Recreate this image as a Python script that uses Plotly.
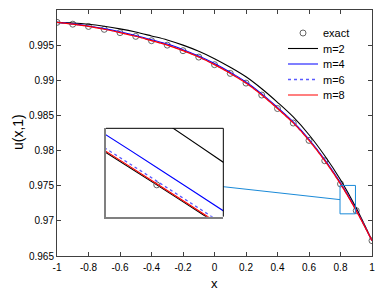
import plotly.graph_objects as go

x = [-1.0, -0.9, -0.8, -0.7, -0.6, -0.5, -0.4, -0.3, -0.2, -0.1, 0.0,
     0.1, 0.2, 0.3, 0.4, 0.5, 0.6, 0.7, 0.8, 0.9, 1.0]

exact = [0.99824, 0.99798, 0.99766, 0.99725, 0.99678, 0.99625, 0.99563, 0.99500,
         0.99421, 0.99330, 0.99222, 0.99098, 0.98960, 0.98790, 0.98598, 0.98392,
         0.98145, 0.97855, 0.97525, 0.97145, 0.96718]
m2 = [0.99824, 0.99815, 0.99797, 0.99768, 0.99731, 0.99686, 0.99631, 0.99574,
      0.99500, 0.99413, 0.99308, 0.99186, 0.99050, 0.98880, 0.98687, 0.98478,
      0.98225, 0.97926, 0.97584, 0.97182, 0.96718]
m4 = [0.99824, 0.99802, 0.99773, 0.99735, 0.99690, 0.99638, 0.99577, 0.99515,
      0.99436, 0.99346, 0.99238, 0.99114, 0.98976, 0.98806, 0.98614, 0.98408,
      0.98161, 0.97871, 0.975402, 0.97156, 0.96718]
m6 = [0.99824, 0.99799, 0.99768, 0.99728, 0.99681, 0.99628, 0.99566, 0.99503,
      0.99424, 0.99333, 0.99225, 0.99101, 0.98963, 0.98793, 0.98601, 0.98395,
      0.98148, 0.97858, 0.975283, 0.97147, 0.96718]
m8 = [0.99824, 0.99798, 0.99767, 0.99726, 0.99679, 0.99626, 0.99564, 0.99501,
      0.99422, 0.99331, 0.99223, 0.99099, 0.98961, 0.98791, 0.98599, 0.98393,
      0.98146, 0.97856, 0.97526, 0.97146, 0.96718]

x_ticks = [-1, -0.8, -0.6, -0.4, -0.2, 0, 0.2, 0.4, 0.6, 0.8, 1]
x_labels = ["-1", "-0.8", "-0.6", "-0.4", "-0.2", "0", "0.2", "0.4", "0.6", "0.8", "1"]
y_ticks = [0.965, 0.97, 0.975, 0.98, 0.985, 0.99, 0.995]
y_labels = ["0.965", "0.97", "0.975", "0.98", "0.985", "0.99", "0.995"]

# zoom windows
box_x = [0.797, 0.895]
box_y = [0.97100, 0.97504]
inset_x = [0.792, 0.8105]
inset_y = [0.974973, 0.975743]
inset_dom_x = [0.1556, 0.528]
inset_dom_y = [0.160, 0.519]

FONT = "Liberation Sans, Arial, Helvetica, sans-serif"

# the page body adds an 8px offset, so the figure is laid out 8px smaller
W, H = 375, 286
ML, MR, MT, MB = 49, 11, 2, 38
PW, PH = W - ML - MR, H - MT - MB

series = [
    ("m=2", m2, dict(color="black", width=1.1)),
    ("m=4", m4, dict(color="#0000FF", width=1.1)),
    ("m=6", m6, dict(color="#5A5AFF", width=1.3, dash="dot")),
    ("m=8", m8, dict(color="#FF0000", width=1.2)),
]

# one legend per entry so the rows can sit as tightly as in the original
legend_ids = ["legend", "legend2", "legend3", "legend4", "legend5"]
legend_rows_px = [25, 40.5, 56, 71.5, 87]   # row centres, px from figure top

fig = go.Figure()
fig.add_trace(go.Scatter(x=x, y=exact, mode="markers", name="exact", legend=legend_ids[0],
                         marker=dict(symbol="circle-open", size=6,
                                     color="#555555", line=dict(width=0.9))))
for i, (name, ys, ln) in enumerate(series):
    fig.add_trace(go.Scatter(x=x, y=ys, mode="lines", name=name, legend=legend_ids[i + 1],
                             line=dict(shape="spline", **ln)))

# inset
fig.add_trace(go.Scatter(x=x, y=exact, mode="lines+markers", showlegend=False,
                         line=dict(color="black", width=1.1, shape="spline"),
                         marker=dict(symbol="circle-open", size=6, color="#555555",
                                     line=dict(width=0.9)),
                         xaxis="x2", yaxis="y2"))
for name, ys, ln in series:
    fig.add_trace(go.Scatter(x=x, y=ys, mode="lines", showlegend=False,
                             line=dict(shape="spline", **ln),
                             xaxis="x2", yaxis="y2"))

axis_common = dict(showline=True, linecolor="#404040", linewidth=1, mirror="ticks",
                   ticks="inside", ticklen=4, tickcolor="#404040", showgrid=False,
                   zeroline=False, automargin=False,
                   tickfont=dict(family=FONT, size=10, color="black"))

legends = {}
for lid, ypx in zip(legend_ids, legend_rows_px):
    legends[lid] = dict(x=(275 - ML) / PW, y=(MT + PH - ypx) / PH,
                        xanchor="left", yanchor="middle",
                        bgcolor="rgba(0,0,0,0)", borderwidth=0,
                        font=dict(family=FONT, size=11, color="black"))

fig.update_layout(
    width=W, height=H,
    margin=dict(l=ML, r=MR, t=MT, b=MB, autoexpand=False),
    paper_bgcolor="white", plot_bgcolor="white",
    font=dict(family=FONT, color="black"),
    showlegend=True,
    xaxis=dict(range=[-1, 1], tickvals=x_ticks, ticktext=x_labels, ticklabelstandoff=2,
               **axis_common),
    yaxis=dict(range=[0.965, 1.0], tickvals=y_ticks, ticktext=y_labels, ticklabelstandoff=0,
               **axis_common),
    xaxis2=dict(domain=inset_dom_x, range=inset_x, anchor="y2", showticklabels=False,
                ticks="", showgrid=False, zeroline=False, showline=True,
                linecolor="#808080", linewidth=2),
    yaxis2=dict(domain=inset_dom_y, range=inset_y, anchor="x2", showticklabels=False,
                ticks="", showgrid=False, zeroline=False, showline=True,
                linecolor="#808080", linewidth=2),
    **legends,
)

# axis titles
fig.add_annotation(text="x", xref="paper", yref="paper", x=0.5, y=(MT + PH - 275) / PH,
                   xanchor="center", yanchor="middle", showarrow=False,
                   font=dict(family=FONT, size=13, color="black"))
fig.add_annotation(text="u(x,1)", xref="paper", yref="paper", x=(10 - ML) / PW, y=0.504,
                   xanchor="center", yanchor="middle", showarrow=False, textangle=-90,
                   font=dict(family=FONT, size=14, color="black"))

box_color = "#1A8AD8"
fig.add_shape(type="rect", xref="x", yref="y", x0=box_x[0], x1=box_x[1],
              y0=box_y[0], y1=box_y[1], line=dict(color=box_color, width=1))
fig.add_shape(type="line", xref="paper", yref="y",
              x0=inset_dom_x[1], x1=(box_x[0] + 1) / 2,
              y0=0.97486, y1=(box_y[0] + box_y[1]) / 2,
              line=dict(color=box_color, width=1))
fig.add_shape(type="line", xref="x2 domain", yref="y2 domain", x0=0, x1=1, y0=1, y1=1,
              line=dict(color="black", width=1))
fig.add_shape(type="line", xref="x2 domain", yref="y2 domain", x0=1, x1=1, y0=0, y1=1,
              line=dict(color="black", width=1))

fig.write_html("out.html")
